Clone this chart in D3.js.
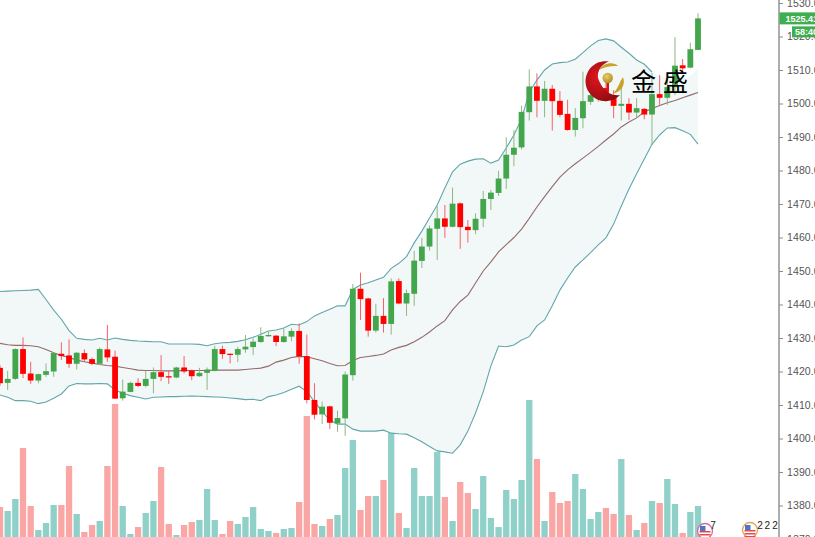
<!DOCTYPE html>
<html>
<head>
<meta charset="utf-8">
<script src="https://cdn.jsdelivr.net/npm/d3@7/dist/d3.min.js"></script>
<style>
html,body{margin:0;padding:0;background:#fff;overflow:hidden}
svg{display:block}
</style>
</head>
<body>
<svg id="c" width="815" height="537"></svg>
<script>
const opens = [
1421.1,1416.6,1417.8,1426.7,1419.4,1417.3,1419.0,1420.0,1425.3,1424.8,
1422.3,1425.5,1423.7,1422.3,1426.6,1424.4,1412.0,1413.9,1416.6,1415.7,
1417.8,1419.8,1418.6,1418.2,1421.2,1420.3,1418.6,1419.6,1420.2,1426.7,
1425.3,1425.0,1426.6,1427.3,1428.8,1430.5,1430.7,1428.8,1430.4,1432.1,
1424.6,1411.5,1407.2,1409.6,1404.5,1406.0,1418.9,1444.7,1441.8,1432.2,
1436.6,1434.2,1447.0,1440.3,1443.2,1453.0,1457.3,1462.6,1465.7,1463.2,
1470.2,1463.2,1462.2,1465.6,1471.5,1473.3,1477.6,1484.7,1486.9,1497.4,
1505.1,1500.8,1504.4,1500.8,1496.9,1492.1,1495.6,1500.5,1502.5,1504.6,
1502.5,1499.3,1499.9,1497.3,1498.4,1496.7,1502.8,1501.7,1504.9,1511.4,
1510.7,1516.0];
const closes = [
1416.5,1417.8,1426.7,1419.3,1417.3,1419.2,1420.1,1425.5,1424.6,1422.3,
1425.6,1423.6,1422.3,1426.7,1424.2,1411.9,1414.0,1416.6,1415.7,1417.8,
1419.8,1418.4,1418.2,1421.2,1420.0,1418.6,1419.6,1420.6,1426.7,1425.2,
1425.0,1426.7,1427.4,1428.9,1430.6,1430.9,1428.8,1430.5,1432.1,1424.5,
1411.5,1407.1,1409.5,1404.7,1406.1,1419.1,1444.7,1441.6,1432.2,1436.6,
1434.2,1446.9,1440.3,1443.4,1453.1,1457.3,1462.7,1465.7,1463.2,1470.1,
1463.1,1462.2,1465.6,1471.5,1473.4,1477.6,1484.7,1486.8,1497.5,1505.1,
1500.8,1504.4,1500.7,1496.6,1492.1,1495.7,1500.7,1502.5,1504.6,1502.5,
1499.3,1499.9,1497.3,1498.6,1496.7,1502.8,1501.7,1504.9,1511.3,1510.5,
1516.2,1525.41];
const highs = [
1421.9,1420.2,1426.9,1430.2,1422.9,1419.4,1422.4,1425.7,1428.7,1429.6,
1425.8,1426.6,1424.2,1427.2,1433.9,1426.2,1417.6,1417.0,1418.0,1420.2,
1421.2,1424.9,1420.2,1421.4,1424.6,1420.6,1421.1,1421.2,1427.7,1427.7,
1425.4,1427.4,1430.9,1429.9,1433.2,1431.9,1430.9,1432.9,1432.9,1434.4,
1431.0,1416.5,1411.0,1409.8,1408.3,1420.0,1446.1,1449.5,1442.0,1440.2,
1441.9,1447.8,1447.8,1444.5,1456.0,1459.9,1463.5,1469.4,1469.7,1474.9,
1470.4,1465.2,1467.2,1473.9,1474.2,1479.9,1489.9,1492.1,1499.3,1510.2,
1509.0,1506.7,1505.5,1503.7,1501.1,1498.6,1509.5,1504.0,1506.4,1507.0,
1504.0,1507.0,1501.6,1501.6,1498.6,1509.1,1508.5,1507.0,1519.8,1513.3,
1518.1,1526.9];
const lows = [
1415.7,1414.5,1417.5,1418.0,1416.3,1416.5,1418.4,1418.4,1423.4,1421.1,
1420.6,1422.8,1421.9,1421.9,1422.9,1411.8,1411.3,1413.8,1415.3,1415.3,
1413.5,1417.1,1416.3,1418.0,1419.4,1417.4,1418.4,1414.5,1420.0,1423.8,
1422.4,1422.8,1425.6,1424.9,1428.6,1430.4,1427.6,1428.6,1429.0,1422.3,
1410.5,1405.7,1404.3,1402.8,1402.0,1400.8,1417.3,1435.4,1430.4,1431.6,
1431.6,1431.0,1440.1,1436.6,1439.6,1450.9,1456.1,1453.3,1459.9,1463.0,
1456.6,1458.5,1461.0,1463.1,1468.2,1472.4,1474.5,1481.3,1486.3,1494.9,
1495.9,1495.9,1491.9,1495.9,1491.9,1490.1,1492.6,1499.6,1500.5,1501.0,
1495.6,1494.9,1495.1,1495.7,1495.3,1487.6,1499.6,1499.6,1502.5,1509.4,
1510.5,1516.0];
const bandUpper = [
1443.9,1444.0,1444.1,1444.2,1444.3,1444.5,1441.5,1438.3,1435.6,1432.2,
1429.9,1429.6,1429.4,1429.9,1429.4,1430.0,1429.6,1429.3,1429.1,1429.0,
1428.9,1428.9,1428.2,1428.2,1428.2,1428.2,1428.1,1427.7,1428.3,1428.6,
1428.7,1429.0,1429.5,1430.2,1431.1,1432.1,1432.4,1433.0,1434.1,1433.9,
1434.9,1436.6,1437.6,1438.6,1439.6,1439.6,1444.5,1445.8,1446.5,1447.3,
1448.1,1450.8,1452.3,1454.3,1458.4,1461.9,1465.8,1469.7,1474.8,1479.6,
1481.9,1482.8,1483.4,1483.5,1482.2,1483.1,1486.7,1490.6,1495.4,1503.4,
1507.0,1510.0,1511.8,1512.2,1512.4,1513.2,1515.2,1517.2,1518.8,1519.3,
1518.7,1516.8,1515.0,1513.0,1511.7,1509.4,1508.2,1507.3,1507.0,1507.3,
1508.2,1510.6];
const bandMiddle = [
1428.4,1428.0,1427.8,1427.8,1427.7,1427.4,1426.6,1425.6,1424.8,1424.2,
1423.4,1422.9,1422.5,1422.1,1421.8,1421.6,1421.2,1420.8,1420.4,1420.3,
1420.3,1420.2,1420.2,1420.2,1420.3,1420.3,1420.3,1420.3,1420.4,1420.4,
1420.4,1420.4,1420.6,1420.8,1421.0,1421.6,1422.8,1423.4,1424.2,1424.5,
1424.4,1423.8,1423.2,1422.4,1421.7,1421.8,1423.3,1424.2,1424.5,1424.8,
1425.2,1426.4,1427.2,1427.8,1428.9,1430.2,1431.8,1433.6,1435.2,1438.4,
1440.9,1442.8,1446.4,1450.0,1452.7,1455.7,1457.9,1460.0,1462.5,1465.7,
1469.1,1472.2,1475.2,1478.0,1480.2,1482.0,1483.7,1485.4,1487.2,1489.1,
1490.9,1493.0,1494.5,1495.7,1497.5,1498.5,1499.4,1500.2,1500.9,1501.7,
1502.5,1503.3];
const bandLower = [
1413.0,1412.3,1411.3,1411.3,1411.1,1410.4,1410.9,1412.0,1413.3,1415.7,
1416.4,1416.3,1416.3,1416.4,1416.3,1414.5,1413.5,1412.8,1412.3,1411.8,
1412.3,1412.4,1412.5,1412.5,1412.6,1412.7,1412.6,1412.5,1412.4,1412.3,
1412.1,1411.9,1411.6,1411.7,1411.3,1412.5,1413.0,1413.7,1414.7,1415.6,
1414.0,1411.0,1408.0,1405.5,1404.3,1404.3,1402.8,1402.2,1402.2,1402.2,
1402.5,1401.6,1401.4,1401.3,1400.2,1399.0,1397.6,1396.3,1396.0,1395.6,
1398.1,1402.2,1407.6,1413.9,1421.7,1427.6,1427.4,1427.9,1429.4,1430.4,
1433.6,1435.4,1439.6,1444.3,1447.9,1451.2,1453.3,1455.5,1457.8,1459.9,
1464.0,1469.4,1474.5,1479.0,1483.4,1487.8,1490.6,1492.7,1492.8,1491.9,
1490.8,1487.9];
const volumes = [
30,26,38,89,31,7,14,32,32,71,
23,5,12,16,71,133,31,3,10,24,
36,70,13,2,12,15,17,48,17,3,
16,13,20,30,8,6,4,8,9,35,
121,13,11,18,22,69,97,27,41,41,
57,104,24,9,69,41,41,85,40,16,
55,44,28,61,19,10,47,38,57,137,
78,16,45,34,36,63,48,18,25,29,
23,78,22,7,14,36,34,58,33,4,
25,31];
const priceTicks = [1370,1380,1390,1400,1410,1420,1430,1440,1450,1460,1470,1480,1490,1500,1510,1520,1530];
const lastPrice = 1525.41;
const countdown = "58:40";
const logoText = "金盛";

const svg = d3.select("#c");
const idx = d3.range(opens.length);
const x = d3.scaleLinear().domain([0,91]).range([0,698]);
const y = d3.scaleLinear().domain([1370,1530]).range([539,3]);
const v = d3.scaleLinear().domain([0,140]).range([537,397]);

const up = i => closes[i] >= opens[i];

// Bollinger band
svg.append("path").datum(idx)
  .attr("d", d3.area().x(i=>x(i)).y0(i=>y(bandLower[i])).y1(i=>y(bandUpper[i])))
  .attr("fill","#f2f8f8");

// volume
svg.append("g").selectAll("rect").data(idx).join("rect")
  .attr("x",i=>x(i)-3.15).attr("width",6.3)
  .attr("y",i=>v(volumes[i])).attr("height",i=>v(0)-v(volumes[i]))
  .attr("fill",i=>up(i)?"#8fd1c9":"#f9a6a4");

// band lines
const line = arr => d3.line().x(i=>x(i)).y(i=>y(arr[i]));
svg.append("path").datum(idx)
  .attr("d", line(bandUpper).defined(i=>i<=85))
  .attr("fill","none").attr("stroke","#62a6aa").attr("stroke-width",1.1);
svg.append("path").datum(idx).attr("d", line(bandLower))
  .attr("fill","none").attr("stroke","#62a6aa").attr("stroke-width",1.1);
svg.append("path").datum(idx).attr("d", line(bandMiddle))
  .attr("fill","none").attr("stroke","#946a6a").attr("stroke-width",1.1);

// candles
const g = svg.append("g");
g.selectAll("line").data(idx).join("line")
  .attr("x1",i=>x(i)).attr("x2",i=>x(i))
  .attr("y1",i=>y(highs[i])).attr("y2",i=>y(lows[i]))
  .attr("stroke",i=>up(i)?"#8fb683":"#f4616b").attr("stroke-width",1);
g.selectAll("rect").data(idx).join("rect")
  .attr("x",i=>x(i)-2.9).attr("width",5.8)
  .attr("y",i=>y(Math.max(opens[i],closes[i])))
  .attr("height",i=>Math.max(1.2,Math.abs(y(opens[i])-y(closes[i]))))
  .attr("fill",i=>up(i)?"#43a64d":"#ff0000");

// axis
const axis = d3.axisRight(y).tickValues(priceTicks).tickFormat(d3.format(".2f")).tickSize(4).tickPadding(4).tickSizeOuter(0);
const ag = svg.append("g").attr("transform","translate(779,0)").call(axis);
ag.select(".domain").attr("stroke","#8c8c8c").attr("stroke-width",1.4).attr("d","M0,0V537");
ag.selectAll(".tick line").attr("stroke","#8c8c8c");
ag.selectAll("text").attr("fill","#555").attr("font-family","'Liberation Sans',Arial,sans-serif").attr("font-size",10.5).attr("letter-spacing",0.1);

// price labels
svg.append("rect").attr("x",779.5).attr("width",36).attr("y",y(lastPrice)-6).attr("height",12).attr("fill","#3fae4e");
svg.append("text").attr("x",785.5).attr("y",y(lastPrice)+3.4).text(lastPrice.toFixed(2))
  .attr("fill","#fff").attr("font-family","'Liberation Sans',Arial,sans-serif").attr("font-size",9).attr("font-weight","bold");
svg.append("rect").attr("x",792).attr("width",23).attr("y",y(lastPrice)+8).attr("height",11).attr("fill","#3fae4e");
svg.append("text").attr("x",795).attr("y",y(lastPrice)+16.8).text(countdown)
  .attr("fill","#fff").attr("font-family","'Liberation Sans',Arial,sans-serif").attr("font-size",9).attr("font-weight","bold");

// logo
const defs = svg.append("defs");
const rg = defs.append("radialGradient").attr("id","lr").attr("cx","35%").attr("cy","40%").attr("r","70%");
rg.append("stop").attr("offset","0%").attr("stop-color","#e0161c");
rg.append("stop").attr("offset","100%").attr("stop-color","#8e0b12");
const gg = defs.append("radialGradient").attr("id","lg").attr("cx","40%").attr("cy","35%").attr("r","70%");
gg.append("stop").attr("offset","0%").attr("stop-color","#e8cf6a");
gg.append("stop").attr("offset","100%").attr("stop-color","#b08a1c");
const logo = svg.append("g");
logo.append("path").attr("fill","url(#lr)")
  .attr("d","M609,61.5 A20,20 0 1,0 620,95 C611,97 602,90 598,78 C597,70 602,64 609,61.5 Z");
logo.append("path").attr("fill","#c9a227").attr("d","M599,70 C604,62 614,62 618,66 C613,66 606,66 599,70 Z");
logo.append("path").attr("fill","#c9a227").attr("d","M623,77 C626,85 621,92 613,93.5 C618,89 619,83 623,77 Z");
logo.append("circle").attr("cx",607.7).attr("cy",78).attr("r",5.2).attr("fill","url(#lg)");
logo.append("rect").attr("x",606.5).attr("y",83).attr("width",2.5).attr("height",8).attr("fill","#d11a1a");
svg.append("text").attr("x",631).attr("y",91).text(logoText)
  .attr("fill","#000").attr("font-family","'Noto Sans CJK SC',sans-serif").attr("font-size",25).attr("letter-spacing",7);

// event flags
function flag(cx,cy,ring){
  const f = svg.append("g");
  f.append("circle").attr("cx",cx).attr("cy",cy).attr("r",7.5).attr("fill","#fff").attr("stroke",ring).attr("stroke-width",1.3);
  f.append("rect").attr("x",cx-5).attr("y",cy-5).attr("width",5.5).attr("height",5).attr("fill","#4a76c4");
  [1,4,7].forEach(d=>f.append("rect").attr("x",cx-5.5).attr("y",cy+d-1).attr("width",11).attr("height",1.5).attr("fill","#e8474c"));
}
flag(705,531,"#d66aa0");
flag(750,530,"#e8a25a");
const ev = [[713,"7"],[760,"2"],[767.3,"2"],[775,"2"]];
svg.append("g").selectAll("text").data(ev).join("text")
  .attr("x",d=>d[0]).attr("y",529).attr("text-anchor","middle").text(d=>d[1])
  .attr("fill","#222").attr("font-family","'Liberation Sans',Arial,sans-serif").attr("font-size",10);
</script>
</body>
</html>
